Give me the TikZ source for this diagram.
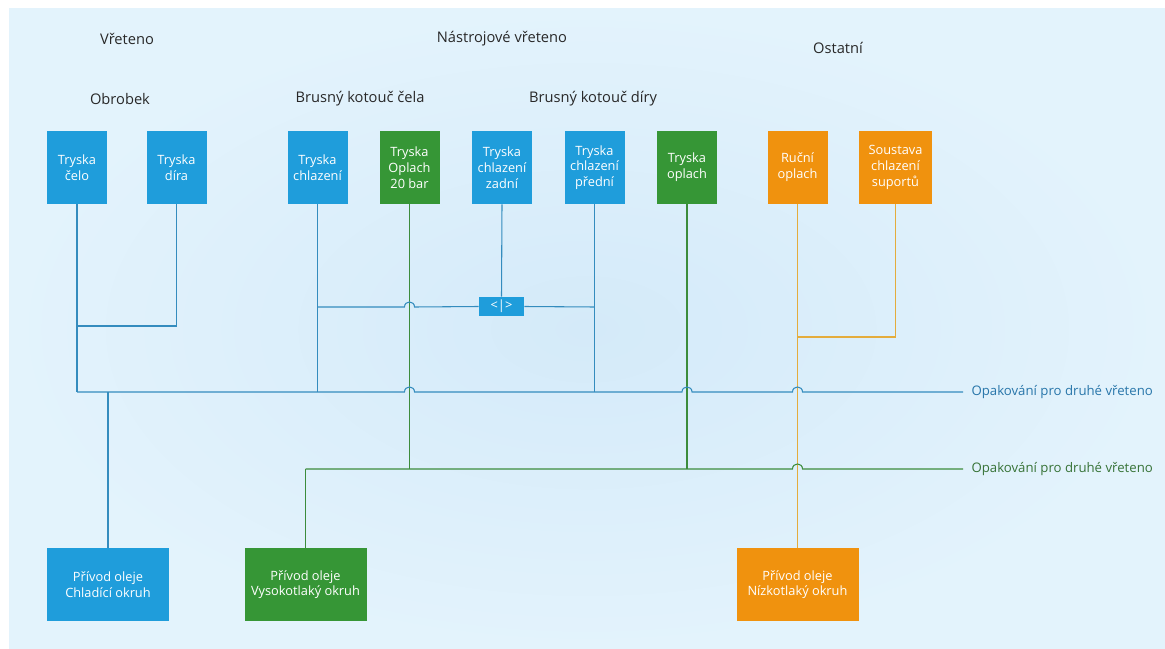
\documentclass[tikz,border=0pt]{standalone}
\usepackage{fontspec}
\setmainfont{Open Sans}
\usepackage{tikz}
\definecolor{bluebox}{RGB}{31,157,219}
\definecolor{greenbox}{RGB}{54,150,54}
\definecolor{orangebox}{RGB}{240,146,14}
\definecolor{blueline}{RGB}{52,140,190}
\definecolor{greenline}{RGB}{60,140,60}
\definecolor{orangeline}{RGB}{228,172,60}
\definecolor{bluetxt}{RGB}{40,118,170}
\definecolor{greentxt}{RGB}{55,115,55}
\definecolor{bgin}{RGB}{212,234,249}
\definecolor{bgout}{RGB}{227,243,252}
\definecolor{hdtxt}{RGB}{40,40,40}
% hop of a horizontal line over a vertical one at x=#1, y=#2
\newcommand{\hop}[2]{-- (#1-5,#2) .. controls (#1-5,#2-6.7) and (#1+5,#2-6.7) .. (#1+5,#2)}
\tikzset{
  box/.style={inner sep=0pt, minimum width=45pt, minimum height=54.75pt, align=center,
    text=white, font=\fontsize{9.6}{11.8}\selectfont},
  bbox/.style={box, fill=bluebox},
  gbox/.style={box, fill=greenbox},
  obox/.style={box, fill=orangebox},
  wbox/.style={minimum width=91.5pt},
  hd/.style={font=\fontsize{11}{14}\selectfont, text=hdtxt},
  blin/.style={blueline, line width=0.8pt},
  glin/.style={greenline, line width=0.8pt},
  olin/.style={orangeline, line width=0.8pt},
  rlab/.style={anchor=west, inner sep=0pt, xshift=6pt, font=\fontsize{9.9}{12}\selectfont},
}
\begin{document}
\begin{tikzpicture}[x=0.75pt, y=-0.75pt]
\useasboundingbox (0,0) rectangle (1165,649);
\fill[white] (0,0) rectangle (1165,649);
\shade[inner color=bgin, outer color=bgout] (9,9) rectangle (1165,649);
% headings
\node[hd] (vret) at (127,39) {Vřeteno};
\node[hd] (nastr) at (502,39) {Nástrojové vřeteno};
\node[hd] (ostat) at (838,48) {Ostatní};
\node[hd] (obr) at (120,99) {Obrobek};
\node[hd] (bkc) at (360,99) {Brusný kotouč čela};
\node[hd] (bkd) at (593,99) {Brusný kotouč díry};
% nozzles
\node[bbox] (celo) at (77,167.5) {Tryska\\čelo};
\node[bbox] (dira) at (176.5,167.5) {Tryska\\díra};
\node[bbox] (chlaz) at (317.5,167.5) {Tryska\\chlazení};
\node[gbox] (opl20) at (409.5,167.5) {Tryska\\Oplach\\20 bar};
\node[bbox] (zadni) at (502,167.5) {Tryska\\chlazení\\zadní};
\node[bbox] (predni) at (594.5,167.5) {Tryska\\chlazení\\přední};
\node[gbox] (oplach) at (687,167.5) {Tryska\\oplach};
\node[obox] (rucni) at (797.5,167.5) {Ruční\\oplach};
\node[obox, minimum width=54.75pt] (sous) at (895.5,167.5) {Soustava\\chlazení\\suportů};
% oil supplies
\node[bbox, wbox] (chlad) at (108,584.5) {Přívod oleje\\Chladící okruh};
\node[gbox, wbox] (vysok) at (305.5,584.5) {Přívod oleje\\Vysokotlaký okruh};
\node[obox, wbox] (nizk) at (797.5,584.5) {Přívod oleje\\Nízkotlaký okruh};
% junctions
\coordinate (bL) at (77,392);
\coordinate (bR) at (963,392);
\coordinate (gL) at (305.5,469);
\coordinate (gR) at (963,469);
\coordinate (mL) at (317.5,307);
\coordinate (mR) at (594.5,307);
\coordinate (dj) at (77,326);
\coordinate (oj) at (797.5,337);
% cooling circuit
\draw[blin] (celo.south) -- (bL);
\draw[blin] (dira.south) |- (dj);
\draw[blin] (chlaz.south) -- (chlaz.south |- bL);
\draw[blin] (predni.south) -- (predni.south |- bL);
\draw[blin] (chlad.north) -- (chlad.north |- bL);
% high pressure circuit
\draw[glin] (opl20.south) -- (opl20.south |- gL);
\draw[glin] (oplach.south) -- (oplach.south |- gL);
\draw[glin] (vysok.north) -- (gL);
% low pressure circuit
\draw[olin] (rucni.south) -- (nizk.north);
\draw[olin] (sous.south) |- (oj);
% buses
\node[fill=bluebox, inner sep=0pt, minimum width=33.75pt, minimum height=14.25pt,
  text=white, font=\fontsize{9.6}{11}\selectfont] (sw) at (501.5,306.5) {<|>};
\draw[blin] (zadni.south) -- (sw.north);
\draw[blin] (mL) \hop{409.5}{307} -- (sw.west);
\draw[blin] (sw.east) -- (mR);
\draw[blin] (bL) \hop{409.5}{392} \hop{687}{392} \hop{797.5}{392} -- (bR)
  node[rlab, text=bluetxt] (rep1) {Opakování pro druhé vřeteno};
\draw[glin] (gL) \hop{797.5}{469} -- (gR)
  node[rlab, text=greentxt] (rep2) {Opakování pro druhé vřeteno};
\end{tikzpicture}
\end{document}
